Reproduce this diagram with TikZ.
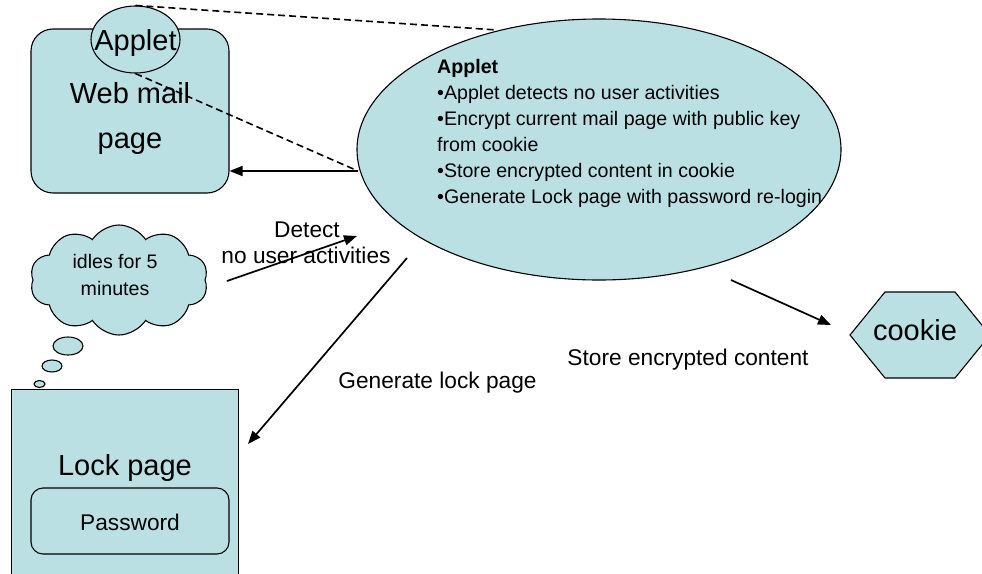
\documentclass[tikz,border=0pt]{standalone}
\usepackage{fontspec}
\setmainfont{Liberation Sans}
\usetikzlibrary{arrows.meta,shapes.geometric,shapes.symbols}
\definecolor{fillc}{RGB}{187,224,227}
\begin{document}
\begin{tikzpicture}[x=1pt,y=-1pt,
  shp/.style={draw=black,fill=fillc,line width=1.1pt,inner sep=0pt},
  arr/.style={line width=1.7pt,-{Triangle[length=13pt,width=10pt]}},
  dsh/.style={line width=1.6pt,dash pattern=on 7pt off 4pt},
  txt/.style={inner sep=0pt,anchor=base},
  bigf/.style={font=\fontsize{29}{34}\selectfont},
  midf/.style={font=\fontsize{22.7}{27}\selectfont},
  smlf/.style={font=\fontsize{19.6}{26}\selectfont},
]
\useasboundingbox (0,0) rectangle (982,573);
% shapes
\node[shp, rounded corners=22pt, minimum width=198pt, minimum height=164pt] (webmail) at (130,111) {};
\node[shp, ellipse, minimum width=89pt, minimum height=67pt] (applet) at (135.5,39.5) {};
\node[shp, ellipse, minimum width=484pt, minimum height=261pt] (big) at (599,149.5) {};
\node[shp, minimum width=227pt, minimum height=200pt, anchor=north west] (lock) at (11,389) {};
\node[shp, rounded corners=12pt, minimum width=198pt, minimum height=66pt] (pw) at (130,521) {};
\node[shp, cloud, cloud puffs=10, cloud puff arc=115, aspect=1.6, minimum width=178pt, minimum height=110pt] (cloud) at (119,280) {};
\node[shp, ellipse, minimum width=30pt, minimum height=18pt] (b1) at (68,346) {};
\node[shp, ellipse, minimum width=20pt, minimum height=12pt] (b2) at (52,366) {};
\node[shp, ellipse, minimum width=11pt, minimum height=7pt] (b3) at (39.5,384) {};
\draw[shp] (850,335) -- (885,292) -- (955,292) -- (990,335) -- (955,378) -- (885,378) -- cycle;
% texts
\node[txt, bigf] (tapplet) at (135.5,50) {Applet};
\node[txt, bigf] (tweb) at (130,103) {Web mail};
\node[txt, bigf] (tpage) at (130,148) {page};
\node[txt, bigf] (tlock) at (125,475) {Lock page};
\node[txt, midf] (tpw) at (130,530) {Password};
\node[txt, bigf] (tcookie) at (915,340) {cookie};
\node[txt, smlf] (tidle1) at (115,268) {idles for 5};
\node[txt, smlf] (tidle2) at (115,295) {minutes};
\node[txt, midf] (tdet1) at (307,237) {Detect};
\node[txt, midf] (tdet2) at (306,263) {no user activities};
\node[txt, midf] (tgen) at (437.5,388) {Generate lock page};
\node[txt, midf] (tstore) at (688,365) {Store encrypted content};
\node[txt, smlf, anchor=base west] (l0) at (437,73) {\bfseries Applet};
\node[txt, smlf, anchor=base west] (l1) at (437,99) {•Applet detects no user activities};
\node[txt, smlf, anchor=base west] (l2) at (437,125) {•Encrypt current mail page with public key};
\node[txt, smlf, anchor=base west] (l3) at (437,151) {from cookie};
\node[txt, smlf, anchor=base west] (l4) at (437,177) {•Store encrypted content in cookie};
\node[txt, smlf, anchor=base west] (l5) at (437,203) {•Generate Lock page with password re-login};
% connectors
\coordinate (bigtop) at (497,30);
\coordinate (bigL) at (358,171);
\coordinate (dS) at (227,281);
\coordinate (dE) at (357,236);
\coordinate (gS) at (407,258);
\coordinate (gE) at (248,444);
\coordinate (sS) at (731,280);
\coordinate (sE) at (831,325);
\draw[dsh] (applet.north) -- (bigtop);
\draw[dsh] (applet.south) -- (bigL);
\draw[arr] (bigL) -- (bigL -| webmail.east);
\draw[arr] (dS) -- (dE);
\draw[arr] (gS) -- (gE);
\draw[arr] (sS) -- (sE);
\end{tikzpicture}
\end{document}
